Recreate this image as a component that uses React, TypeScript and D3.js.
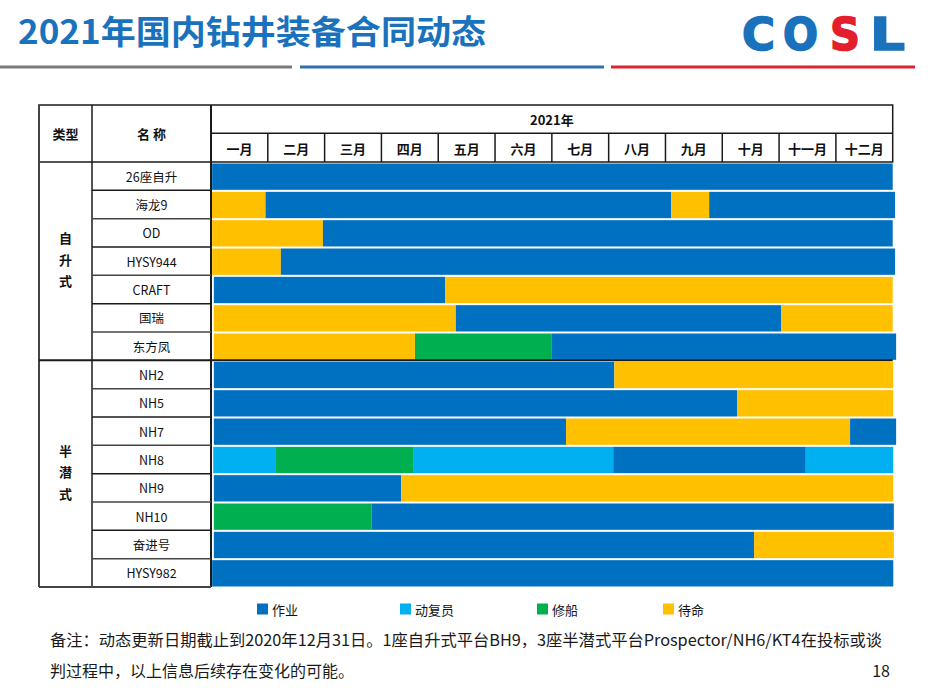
import * as d3 from 'd3'
import { useEffect } from 'react'

// rows of the table
const typeLabels = ['自升式', '半潜式']
const typeCounts = [7, 8]
const rigNames = [
  '26座自升', '海龙9', 'OD', 'HYSY944', 'CRAFT', '国瑞', '东方凤',
  'NH2', 'NH5', 'NH7', 'NH8', 'NH9', 'NH10', '奋进号', 'HYSY982',
]
const monthLabels = ['一月', '二月', '三月', '四月', '五月', '六月', '七月', '八月', '九月', '十月', '十一月', '十二月']
const statusLabels = ['作业', '动复员', '修船', '待命']
const statusColors = ['#0070C0', '#00B0F0', '#00B050', '#FFC000']

// [rig index, start month, end month, status index]
const segments: [number, number, number, number][] = [
  [0, 0.02, 12.0, 0],
  [1, 0.0, 0.96, 3], [1, 0.96, 8.1, 0], [1, 8.1, 8.77, 3], [1, 8.77, 12.04, 0],
  [2, 0.02, 1.97, 3], [2, 1.97, 12.0, 0],
  [3, 0.02, 1.23, 3], [3, 1.23, 12.04, 0],
  [4, 0.05, 4.12, 0], [4, 4.12, 12.0, 3],
  [5, 0.05, 4.31, 3], [5, 4.31, 10.04, 0], [5, 10.04, 12.0, 3],
  [6, 0.05, 3.59, 3], [6, 3.59, 6.0, 2], [6, 6.0, 12.06, 0],
  [7, 0.05, 7.1, 0], [7, 7.1, 12.01, 3],
  [8, 0.05, 9.26, 0], [8, 9.26, 12.01, 3],
  [9, 0.05, 6.25, 0], [9, 6.25, 11.25, 3], [9, 11.25, 12.06, 0],
  [10, 0.04, 1.13, 1], [10, 1.13, 3.57, 2], [10, 3.57, 7.08, 1], [10, 7.08, 10.47, 0], [10, 10.47, 12.01, 1],
  [11, 0.05, 3.35, 0], [11, 3.35, 12.01, 3],
  [12, 0.05, 2.83, 2], [12, 2.83, 12.02, 0],
  [13, 0.05, 9.56, 0], [13, 9.56, 12.02, 3],
  [14, 0.02, 12.01, 0],
]

const footLine1 = '备注：动态更新日期截止到2020年12月31日。1座自升式平台BH9，3座半潜式平台Prospector/NH6/KT4在投标或谈'
const footLine2 = '判过程中，以上信息后续存在变化的可能。'

const FONT = '"Noto Sans CJK SC", "Noto Sans", sans-serif'

// logo letters: [char, left, width, colour]
const logo: [string, number, number, string][] = [
  ['C', 742, 33, '#1a72bd'],
  ['O', 783, 35, '#1a72bd'],
  ['S', 830, 30, '#e31e2d'],
  ['L', 870, 35, '#1a72bd'],
]

export default function App() {
  useEffect(() => {
    document.body.style.margin = '0'
  }, [])

  const left = 39, typeRight = 92, nameRight = 211, right = 892.7
  const top = 105, headMid = 133.3, headBottom = 162, bottom = 587

  const x = d3.scaleLinear().domain([0, 12]).range([nameRight, right])
  const y = d3.scaleBand<number>().domain(d3.range(rigNames.length)).range([headBottom, bottom])
  const rowH = y.bandwidth()

  const typeStarts = typeCounts.map((_, i) => d3.sum(typeCounts.slice(0, i)))
  const lineColor = '#1a1a1a'

  return (
    <svg width={938} height={696} style={{ display: 'block', fontFamily: FONT }}>
      <rect width={938} height={696} fill="#fff" />
      {/* title */}
      <text x={18} y={44} fontSize={33} fontWeight={700} fill="#1a72bd" textLength={468} lengthAdjust="spacingAndGlyphs">
        2021年国内钻井装备合同动态
      </text>
      <g fontFamily='"DejaVu Sans", sans-serif' fontWeight={700} fontSize={44}>
        {logo.map(([ch, lx, w, c]) => (
          <text key={ch} x={lx} y={50} fill={c} stroke={c} strokeWidth={1.6}
            textLength={w} lengthAdjust="spacingAndGlyphs">{ch}</text>
        ))}
      </g>
      <line x1={0} x2={292} y1={67} y2={67} stroke="#7a7a7a" strokeWidth={3} />
      <line x1={300} x2={604} y1={67} y2={67} stroke="#2f6eb5" strokeWidth={3} />
      <line x1={611} x2={915} y1={67} y2={67} stroke="#d9252f" strokeWidth={3} />

      {/* bars */}
      {segments.map(([r, s, e, st], i) => (
        <rect key={i} x={x(s)} y={(y(r) as number) + 1.5} width={x(e) - x(s)} height={rowH - 2}
          fill={statusColors[st]} />
      ))}

      {/* table lines */}
      <g stroke={lineColor} fill="none">
        <rect x={left} y={top} width={right - left} height={headBottom - top} strokeWidth={1.5} />
        <line x1={nameRight} x2={right} y1={headMid} y2={headMid} strokeWidth={1.5} />
        {d3.range(1, 12).map((m) => (
          <line key={m} x1={x(m)} x2={x(m)} y1={headMid} y2={headBottom} strokeWidth={1.5} />
        ))}
        <line x1={left} x2={left} y1={top} y2={bottom} strokeWidth={2} stroke="#444" />
        <line x1={typeRight} x2={typeRight} y1={top} y2={bottom} strokeWidth={1.5} />
        <line x1={nameRight} x2={nameRight} y1={top} y2={bottom} strokeWidth={2} />
        <line x1={left} x2={nameRight} y1={bottom} y2={bottom} strokeWidth={2} stroke="#444" />
        {d3.range(1, rigNames.length).map((r) => {
          const isGroup = typeStarts.includes(r)
          return (
            <line key={r} x1={isGroup ? left : typeRight} x2={isGroup ? right : nameRight}
              y1={y(r)} y2={y(r)} strokeWidth={isGroup ? 2 : 1.5} stroke={r % 2 ? lineColor : '#444'} />
          )
        })}
      </g>

      {/* header text */}
      <g fontWeight={700} fontSize={13} fill="#111" textAnchor="middle" dominantBaseline="central">
        <text x={(left + typeRight) / 2} y={(top + headBottom) / 2}>类型</text>
        <text x={(typeRight + nameRight) / 2} y={(top + headBottom) / 2}>名 称</text>
        <text x={(nameRight + right) / 2} y={(top + headMid) / 2}>2021年</text>
        {monthLabels.map((m, i) => (
          <text key={m} x={x(i + 0.5)} y={(headMid + headBottom) / 2 + 1}>{m}</text>
        ))}
        {typeLabels.map((t, i) => {
          const s = typeStarts[i]
          const cy = ((y(s) as number) + (y(s + typeCounts[i] - 1) as number) + rowH) / 2
          return t.split('').map((ch, j) => (
            <text key={t + j} x={(left + typeRight) / 2} y={cy + (j - 1) * 21.5 - 2}>{ch}</text>
          ))
        })}
      </g>
      <g fontSize={12.5} fill="#111" textAnchor="middle" dominantBaseline="central">
        {rigNames.map((n, i) => (
          <text key={n} x={(typeRight + nameRight) / 2} y={(y(i) as number) + rowH / 2}>{n}</text>
        ))}
      </g>

      {/* legend */}
      <g fontSize={13} fill="#111" dominantBaseline="central">
        {statusLabels.map((s, i) => {
          const lx = [257, 400, 537, 663][i]
          return (
            <g key={s} transform={`translate(${lx},609)`}>
              <rect x={0} y={-5.5} width={11} height={11} fill={statusColors[i]} />
              <text x={15} y={0}>{s}</text>
            </g>
          )
        })}
      </g>

      {/* footnote */}
      <g fontSize={16} fill="#1a1a1a">
        <text x={50} y={646} textLength={832} lengthAdjust="spacingAndGlyphs">{footLine1}</text>
        <text x={50} y={677}>{footLine2}</text>
        <text x={890} y={677} textAnchor="end">18</text>
      </g>
    </svg>
  )
}
